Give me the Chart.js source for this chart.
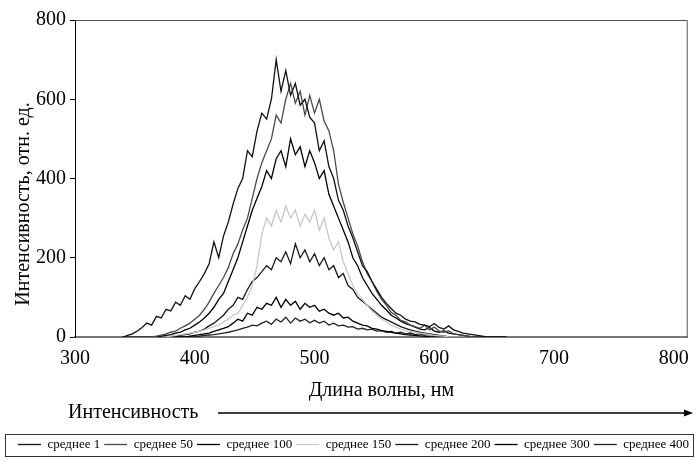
<!DOCTYPE html>
<html>
<head>
<meta charset="utf-8">
<script src="https://cdn.jsdelivr.net/npm/chart.js@4.4.1/dist/chart.umd.min.js"></script>
<style>
  html, body { margin: 0; padding: 0; background: #fff; }
  #wrap { width: 699px; height: 461px; }
</style>
</head>
<body>
<div id="wrap"><canvas id="spectra" width="699" height="461"></canvas></div>
<script>
// длина волны, нм (шаг 4 нм)
const wl = [
  340,344,348,352,356,360,364,368,372,376,
  380,384,388,392,396,400,404,408,412,416,
  420,424,428,432,436,440,444,448,452,456,
  460,464,468,472,476,480,484,488,492,496,
  500,504,508,512,516,520,524,528,532,536,
  540,544,548,552,556,560,564,568,572,576,
  580,584,588,592,596,600,604,608,612,616,
  620,624,628,632,636,640,644,648,652,656,
  660
];

const seriesNames = ['среднее 1','среднее 50','среднее 100','среднее 150','среднее 200','среднее 300','среднее 400'];

const avg1 = [
  0,4,8,15,24,35,30,52,48,70,
  66,88,80,104,95,122,140,160,185,240,
  200,255,290,335,375,400,470,455,520,565,
  550,600,700,620,672,610,640,585,600,555,
  540,470,495,430,400,345,320,280,250,215,
  180,165,140,120,100,85,72,60,55,45,
  40,38,32,30,26,34,24,20,28,18,
  14,10,8,6,4,2,0,0,0,0,
  0
];
const avg50 = [
  0,0,0,0,0,0,0,2,5,8,
  12,15,22,28,35,45,55,70,88,110,
  130,150,175,210,235,270,300,350,400,440,
  470,500,560,540,600,640,590,620,560,610,
  565,600,545,520,470,385,340,300,260,230,
  190,160,140,115,95,80,62,55,42,38,
  30,26,22,30,18,25,15,12,16,8,
  6,4,2,0,0,0,0,0,0,0,
  0
];
const avg100 = [
  0,0,0,0,0,0,0,0,2,4,
  6,10,12,18,22,30,38,48,60,75,
  95,110,140,170,200,240,280,320,350,380,
  420,400,450,470,430,500,460,480,430,470,
  440,400,420,360,330,300,270,240,200,180,
  150,130,110,95,80,68,55,48,40,34,
  30,25,20,18,24,15,12,16,10,8,
  6,4,2,0,0,0,0,0,0,0,
  0
];
const avg150 = [
  0,0,0,0,0,0,0,0,0,0,
  2,4,6,8,10,12,15,18,22,26,
  30,38,45,55,60,80,100,130,180,260,
  300,280,320,290,330,300,320,280,310,290,
  320,270,300,250,220,240,190,160,130,110,
  95,80,65,55,45,38,30,25,20,16,
  14,12,10,8,6,4,3,2,0,0,
  0,0,0,0,0,0,0,0,0,0,
  0
];
const avg200 = [
  0,0,0,0,0,0,0,0,0,0,
  0,2,4,6,8,12,15,20,28,35,
  45,55,70,80,100,95,120,140,150,165,
  180,170,200,190,215,185,235,200,220,190,
  210,180,200,170,180,150,160,130,120,100,
  90,80,70,60,50,44,38,32,26,22,
  18,15,12,10,8,6,4,2,0,0,
  0,0,0,0,0,0,0,0,0,0,
  0
];
const avg300 = [
  0,0,0,0,0,0,0,0,0,0,
  0,0,0,0,2,4,6,8,10,14,
  18,22,26,35,45,40,60,55,75,70,
  85,80,100,75,95,80,90,70,85,75,
  80,65,70,60,55,60,48,50,40,35,
  30,28,22,20,16,14,12,10,8,6,
  5,4,3,2,0,0,0,0,0,0,
  0,0,0,0,0,0,0,0,0,0,
  0
];
const avg400 = [
  0,0,0,0,0,0,0,0,0,0,
  0,0,0,0,0,0,2,4,5,6,
  8,10,12,15,18,22,25,30,28,35,
  40,32,45,38,50,35,48,40,45,36,
  42,35,40,30,35,28,30,25,26,20,
  22,18,20,15,16,12,14,10,12,8,
  10,6,8,5,6,4,3,2,0,0,
  0,0,0,0,0,0,0,0,0,0,
  0
];

const xTicks = [300, 400, 500, 600, 700, 800];
const lineColors = ['#111111', '#4a4a4a', '#000000', '#c8c8c8', '#1a1a1a', '#000000', '#222222'];

const allSeries = [avg1, avg50, avg100, avg150, avg200, avg300, avg400];
const serif = "'Liberation Serif', 'Times New Roman', serif";

// рамка, подпись оси Y, стрелка "Интенсивность" и рамка легенды
const decor = {
  id: 'decor',
  afterLayout(chart) {
    // легенду чуть правее, как на оригинале
    chart.legend.left += 8;
    chart.legend.right += 8;
  },
  afterDraw(chart) {
    const ctx = chart.ctx;
    const a = chart.chartArea;
    ctx.save();
    ctx.strokeStyle = '#555';
    ctx.lineWidth = 1;
    ctx.beginPath();
    ctx.moveTo(a.left, a.top + 0.5);
    ctx.lineTo(a.right - 0.5, a.top + 0.5);
    ctx.lineTo(a.right - 0.5, a.bottom);
    ctx.stroke();

    // подпись оси Y
    ctx.fillStyle = '#000';
    ctx.font = '20px ' + serif;
    ctx.textAlign = 'center';
    ctx.textBaseline = 'middle';
    ctx.translate(24, 204);
    ctx.rotate(-Math.PI / 2);
    ctx.fillText('Интенсивность, отн. ед.', 0, 0);
    ctx.restore();

    ctx.save();
    ctx.fillStyle = '#000';
    ctx.font = '20px ' + serif;
    ctx.textAlign = 'left';
    ctx.textBaseline = 'middle';
    ctx.fillText('Интенсивность', 68, 413);
    ctx.strokeStyle = '#000';
    ctx.lineWidth = 1.5;
    ctx.beginPath();
    ctx.moveTo(218, 413);
    ctx.lineTo(686, 413);
    ctx.stroke();
    ctx.beginPath();
    ctx.moveTo(693, 413);
    ctx.lineTo(684, 409.5);
    ctx.lineTo(684, 416.5);
    ctx.closePath();
    ctx.fill();

    // рамка легенды
    ctx.strokeStyle = '#333';
    ctx.lineWidth = 1;
    ctx.strokeRect(5.5, 434.5, 688, 22);
    ctx.restore();
  }
};

new Chart(document.getElementById('spectra'), {
  type: 'line',
  data: {
    datasets: seriesNames.map((name, k) => ({
      label: name,
      data: wl.map((w, i) => ({ x: w, y: allSeries[k][i] })),
      borderColor: lineColors[k],
      backgroundColor: lineColors[k],
      borderWidth: 1.3,
      pointRadius: 0,
      tension: 0,
      fill: false
    }))
  },
  options: {
    responsive: false,
    animation: false,
    events: [],
    layout: { padding: { top: 20, right: 8, left: 0, bottom: 0 } },
    plugins: {
      legend: {
        position: 'bottom',
        labels: {
          usePointStyle: true,
          pointStyle: 'line',
          pointStyleWidth: 23,
          padding: 4,
          color: '#000',
          font: { family: serif, size: 13 }
        }
      },
      tooltip: { enabled: false }
    },
    scales: {
      x: {
        type: 'linear',
        min: 300,
        max: 811.6,
        afterBuildTicks(scale) {
          scale.ticks = xTicks.map(v => ({ value: v }));
        },
        grid: { display: false, drawTicks: false },
        border: { display: true, color: '#777', width: 2 },
        ticks: {
          autoSkip: false,
          maxRotation: 0,
          padding: 10,
          color: '#000',
          font: { family: serif, size: 20 }
        },
        title: {
          display: true,
          text: 'Длина волны, нм',
          color: '#000',
          font: { family: serif, size: 20 },
          padding: { top: -2, bottom: 31 }
        }
      },
      y: {
        min: 0,
        max: 800,
        afterFit(scale) { scale.width = 75; },
        grid: { drawOnChartArea: false, drawTicks: true, tickLength: 5, color: '#000' },
        border: { display: true, color: '#000', width: 1 },
        ticks: {
          stepSize: 200,
          padding: 4,
          color: '#000',
          font: { family: serif, size: 20 }
        }
      }
    }
  },
  plugins: [decor]
});
</script>
</body>
</html>
